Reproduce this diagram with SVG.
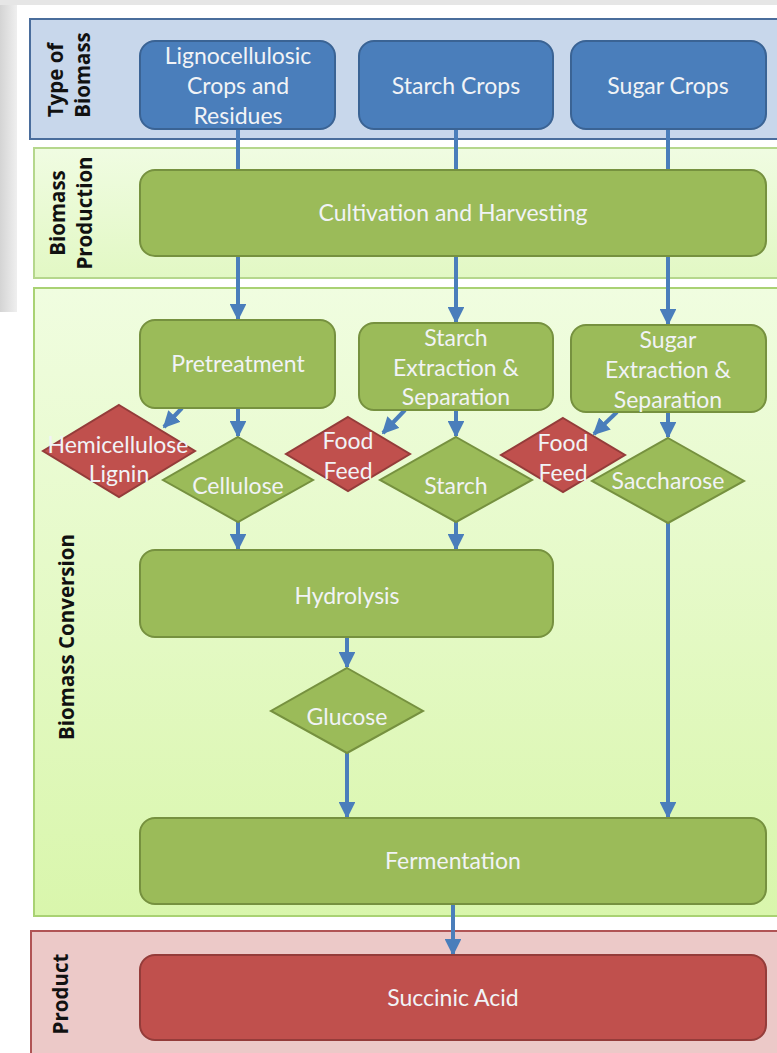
<svg xmlns="http://www.w3.org/2000/svg" width="777" height="1053" viewBox="0 0 777 1053">
  <defs>
    <linearGradient id="bgEdge" x1="0" y1="0" x2="1" y2="0">
      <stop offset="0" stop-color="#d4d4d4"/>
      <stop offset="1" stop-color="#efefef"/>
    </linearGradient>
    <linearGradient id="prodBand" x1="0" y1="0" x2="0" y2="1">
      <stop offset="0" stop-color="#f0fce2"/>
      <stop offset="1" stop-color="#e2f8c4"/>
    </linearGradient>
    <linearGradient id="convBand" x1="0" y1="0" x2="0" y2="1">
      <stop offset="0" stop-color="#f0fde0"/>
      <stop offset="1" stop-color="#d9f6ac"/>
    </linearGradient>
    <marker id="arrow" viewBox="0 0 10 10" refX="9" refY="5" markerWidth="4.2" markerHeight="4.2" orient="auto" markerUnits="strokeWidth">
      <path d="M0,0 L10,5 L0,10 z" fill="#4a7ebb"/>
    </marker>
  </defs>
  <style>
    .band-blue { fill: #c8d7eb; stroke: #4a6d9c; stroke-width: 2; }
    .band-green1 { fill: url(#prodBand); stroke: #b5d78c; stroke-width: 2; }
    .band-green2 { fill: url(#convBand); stroke: #a9d273; stroke-width: 2; }
    .band-red { fill: #ecc9c8; stroke: #b05455; stroke-width: 2; }
    .blue { fill: #4a7ebb; stroke: #3a6394; stroke-width: 2; }
    .green { fill: #9bbb59; stroke: #76913f; stroke-width: 2; }
    .red { fill: #c0504d; stroke: #943c3a; stroke-width: 2; }
    .t { font-family: "Lato", "Open Sans", sans-serif; font-size: 23px; fill: #f1f3f6; text-anchor: middle; dominant-baseline: central; }
    .lab { font-family: "Open Sans", "Noto Sans", sans-serif; font-size: 20.5px; font-weight: bold; fill: #111; text-anchor: middle; dominant-baseline: central; }
    .link { stroke: #4a7ebb; stroke-width: 4; fill: none; }
    .arr { marker-end: url(#arrow); }
  </style>

  <!-- page background -->
  <rect x="0" y="0" width="777" height="1053" fill="#ffffff"/>
  <rect x="0" y="0" width="17" height="312" fill="url(#bgEdge)"/>
  <rect x="0" y="0" width="777" height="5" fill="#e6e6e6"/>

  <!-- swimlane bands -->
  <g id="band-type">
    <rect class="band-blue" x="30" y="19" width="760" height="120"/>
    <text class="lab" transform="translate(55,80) rotate(-90)">Type of</text>
    <text class="lab" transform="translate(82,75) rotate(-90)">Biomass</text>
  </g>
  <g id="band-production">
    <rect class="band-green1" x="34" y="148" width="756" height="130"/>
    <text class="lab" transform="translate(57,213) rotate(-90)">Biomass</text>
    <text class="lab" transform="translate(84,213) rotate(-90)">Production</text>
  </g>
  <g id="band-conversion">
    <rect class="band-green2" x="34" y="288" width="756" height="628"/>
    <text class="lab" transform="translate(66,637) rotate(-90)">Biomass Conversion</text>
  </g>
  <g id="band-product">
    <rect class="band-red" x="31" y="931" width="760" height="130"/>
    <text class="lab" font-size="19.5" transform="translate(60,994) rotate(-90)">Product</text>
  </g>

  <!-- connectors -->
  <g id="connectors">
    <line class="link" x1="238" y1="129" x2="238" y2="170"/>
    <line class="link" x1="456" y1="129" x2="456" y2="170"/>
    <line class="link" x1="668" y1="129" x2="668" y2="170"/>
    <line class="link arr" x1="238" y1="257" x2="238" y2="319"/>
    <line class="link arr" x1="456" y1="257" x2="456" y2="322"/>
    <line class="link arr" x1="668" y1="257" x2="668" y2="324"/>
    <line class="link arr" x1="182" y1="408" x2="164" y2="427"/>
    <line class="link arr" x1="238" y1="408" x2="238" y2="436"/>
    <line class="link arr" x1="405" y1="410" x2="383" y2="433"/>
    <line class="link arr" x1="456" y1="410" x2="456" y2="436"/>
    <line class="link arr" x1="617" y1="412" x2="594" y2="434"/>
    <line class="link arr" x1="668" y1="412" x2="668" y2="437"/>
    <line class="link arr" x1="238" y1="522" x2="238" y2="549"/>
    <line class="link arr" x1="456" y1="522" x2="456" y2="549"/>
    <line class="link arr" x1="347" y1="637" x2="347" y2="667"/>
    <line class="link arr" x1="347" y1="753" x2="347" y2="817"/>
    <line class="link arr" x1="668" y1="523" x2="668" y2="817"/>
    <line class="link arr" x1="453" y1="904" x2="453" y2="954"/>
  </g>

  <!-- biomass types -->
  <g id="n-ligno">
    <rect class="blue" x="140" y="41" width="195" height="88" rx="15"/>
    <text class="t" x="238" y="55">Lignocellulosic</text>
    <text class="t" x="238" y="85">Crops and</text>
    <text class="t" x="238" y="115">Residues</text>
  </g>
  <g id="n-starch-crops">
    <rect class="blue" x="359" y="41" width="194" height="88" rx="15"/>
    <text class="t" x="456" y="85">Starch Crops</text>
  </g>
  <g id="n-sugar-crops">
    <rect class="blue" x="571" y="41" width="195" height="88" rx="15"/>
    <text class="t" x="668" y="85">Sugar Crops</text>
  </g>

  <!-- production -->
  <g id="n-cultivation">
    <rect class="green" x="140" y="170" width="626" height="86" rx="15"/>
    <text class="t" x="453" y="212">Cultivation and Harvesting</text>
  </g>

  <!-- conversion -->
  <g id="n-pretreatment">
    <rect class="green" x="140" y="320" width="195" height="88" rx="15"/>
    <text class="t" x="238" y="363">Pretreatment</text>
  </g>
  <g id="n-starch-ext">
    <rect class="green" x="359" y="323" width="194" height="87" rx="15"/>
    <text class="t" x="456" y="337">Starch</text>
    <text class="t" x="456" y="367">Extraction &amp;</text>
    <text class="t" x="456" y="396">Separation</text>
  </g>
  <g id="n-sugar-ext">
    <rect class="green" x="571" y="325" width="195" height="87" rx="15"/>
    <text class="t" x="668" y="339">Sugar</text>
    <text class="t" x="668" y="369">Extraction &amp;</text>
    <text class="t" x="668" y="399">Separation</text>
  </g>
  <g id="n-hemi">
    <polygon class="red" points="119,405 195,451 119,497 43,451"/>
    <text class="t" x="118" y="444">Hemicellulose</text>
    <text class="t" x="119" y="473">Lignin</text>
  </g>
  <g id="n-cellulose">
    <polygon class="green" points="238,437 313,480 238,522 163,480"/>
    <text class="t" x="238" y="485">Cellulose</text>
  </g>
  <g id="n-food1">
    <polygon class="red" points="348,417 410,454 348,491 286,454"/>
    <text class="t" x="348" y="440">Food</text>
    <text class="t" x="348" y="470">Feed</text>
  </g>
  <g id="n-starch">
    <polygon class="green" points="456,437 532,480 456,522 380,480"/>
    <text class="t" x="456" y="485">Starch</text>
  </g>
  <g id="n-food2">
    <polygon class="red" points="563,418 625,455 563,492 501,455"/>
    <text class="t" x="563" y="442">Food</text>
    <text class="t" x="563" y="472">Feed</text>
  </g>
  <g id="n-saccharose">
    <polygon class="green" points="668,438 744,481 668,523 592,481"/>
    <text class="t" x="668" y="480">Saccharose</text>
  </g>
  <g id="n-hydrolysis">
    <rect class="green" x="140" y="550" width="413" height="87" rx="15"/>
    <text class="t" x="347" y="595">Hydrolysis</text>
  </g>
  <g id="n-glucose">
    <polygon class="green" points="347,668 423,711 347,753 271,711"/>
    <text class="t" x="347" y="716">Glucose</text>
  </g>
  <g id="n-fermentation">
    <rect class="green" x="140" y="818" width="626" height="86" rx="15"/>
    <text class="t" x="453" y="860">Fermentation</text>
  </g>

  <!-- product -->
  <g id="n-succinic">
    <rect class="red" x="140" y="955" width="626" height="85" rx="15"/>
    <text class="t" x="453" y="997">Succinic Acid</text>
  </g>
</svg>
